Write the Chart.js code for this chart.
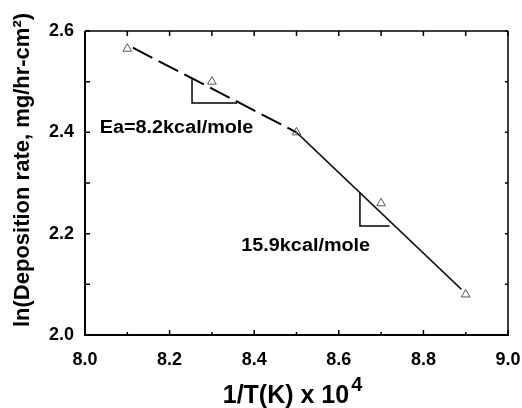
<!DOCTYPE html>
<html>
<head>
<meta charset="utf-8">
<script src="https://cdn.jsdelivr.net/npm/chart.js@4.4.1/dist/chart.umd.min.js"></script>
<style>
html,body{margin:0;padding:0;background:#fff;}
#wrap{width:522px;height:408px;position:relative;}
</style>
</head>
<body>
<div id="wrap"><canvas id="c" width="522" height="408"></canvas></div>
<script>
// ---- data ----
const invT = [8.1, 8.3, 8.5, 8.7, 8.9];
const lnRate = [2.565, 2.50, 2.40, 2.26, 2.08];
const fitLowX = [8.113, 8.5];
const fitLowY = [2.567, 2.40];
const fitHighX = [8.5, 8.89];
const fitHighY = [2.40, 2.09];
const slope1X = [8.253, 8.253, 8.36];
const slope1Y = [2.505, 2.458, 2.458];
const slope2X = [8.65, 8.65, 8.72];
const slope2Y = [2.282, 2.215, 2.215];
const xTickLabels = ["8.0", "8.2", "8.4", "8.6", "8.8", "9.0"];
const yTickLabels = ["2.0", "2.2", "2.4", "2.6"];
const annotations = [
  {text: "Ea=8.2kcal/mole", x: 8.035, y: 2.409, align: "left"},
  {text: "15.9kcal/mole", x: 8.674, y: 2.176, align: "right"}
];

const pts = (xs, ys) => xs.map((x, i) => ({x: x, y: ys[i]}));
const FONT = "'Liberation Sans', Arial, sans-serif";

const decor = {
  id: 'decor',
  afterDatasetsDraw(chart) {
    const ctx = chart.ctx;
    const a = chart.chartArea;
    const xs = chart.scales.x, ys = chart.scales.y;
    ctx.save();
    ctx.strokeStyle = '#000';
    // frame
    ctx.lineWidth = 1.5;
    ctx.beginPath();
    ctx.moveTo(a.left, a.top); ctx.lineTo(a.right, a.top);
    ctx.moveTo(a.right, a.top); ctx.lineTo(a.right, a.bottom);
    ctx.stroke();
    ctx.lineWidth = 2;
    ctx.beginPath();
    ctx.moveTo(a.left, a.top); ctx.lineTo(a.left, a.bottom);
    ctx.moveTo(a.left - 1, a.bottom); ctx.lineTo(a.right + 1, a.bottom);
    ctx.stroke();
    // ticks
    ctx.lineWidth = 1.5;
    ctx.beginPath();
    for (let i = 0; i <= 10; i++) {
      const v = 8.0 + i * 0.1;
      const px = xs.getPixelForValue(v);
      const len = (i % 2 === 0) ? 5 : 3;
      ctx.moveTo(px, a.bottom); ctx.lineTo(px, a.bottom - len);
      ctx.moveTo(px, a.top); ctx.lineTo(px, a.top + 5);
    }
    for (let i = 0; i <= 6; i++) {
      const v = 2.0 + i * 0.1;
      const py = ys.getPixelForValue(v);
      ctx.moveTo(a.left, py); ctx.lineTo(a.left + 5, py);
      ctx.moveTo(a.right, py); ctx.lineTo(a.right - 3, py);
    }
    ctx.stroke();
    // annotations (slightly wide lettering as in the original)
    ctx.fillStyle = '#000';
    ctx.font = "bold 18px " + FONT;
    ctx.textBaseline = 'middle';
    annotations.forEach(t => {
      ctx.save();
      ctx.translate(xs.getPixelForValue(t.x), ys.getPixelForValue(t.y));
      ctx.scale(1.1, 1);
      ctx.textAlign = t.align;
      ctx.fillText(t.text, 0, 0);
      ctx.restore();
    });
    // y title
    ctx.save();
    ctx.translate(23, 170);
    ctx.rotate(-Math.PI / 2);
    ctx.textAlign = 'center';
    ctx.textBaseline = 'middle';
    ctx.font = "bold 22px " + FONT;
    ctx.fillText("ln(Deposition rate, mg/hr-cm\u00B2)", 0, 0);
    ctx.restore();
    // x title
    ctx.textBaseline = 'alphabetic';
    ctx.textAlign = 'left';
    ctx.font = "bold 25px " + FONT;
    const main = "1/T(K) x 10";
    const w1 = ctx.measureText(main).width;
    ctx.font = "bold 20px " + FONT;
    const w2 = ctx.measureText("4").width;
    const cx = (a.left + a.right) / 2 - 5;
    const x0 = cx - (w1 + w2) / 2;
    ctx.font = "bold 25px " + FONT;
    ctx.fillText(main, x0, 403);
    ctx.font = "bold 20px " + FONT;
    ctx.fillText("4", x0 + w1 + 2, 391);
    ctx.restore();
  }
};

new Chart(document.getElementById('c'), {
  type: 'scatter',
  data: {
    datasets: [
      {data: pts(fitLowX, fitLowY), showLine: true, borderColor: '#000', borderWidth: 2, borderDash: [22, 7], pointRadius: 0, fill: false},
      {data: pts(fitHighX, fitHighY), showLine: true, borderColor: '#111', borderWidth: 1.5, pointRadius: 0, fill: false},
      {data: pts(slope1X, slope1Y), showLine: true, borderColor: '#000', borderWidth: 1.5, pointRadius: 0, fill: false},
      {data: pts(slope2X, slope2Y), showLine: true, borderColor: '#000', borderWidth: 1.5, pointRadius: 0, fill: false},
      {data: pts(invT, lnRate), showLine: false, pointStyle: 'triangle', pointRadius: 5, borderColor: '#555', borderWidth: 1, backgroundColor: 'rgba(0,0,0,0)'}
    ]
  },
  options: {
    responsive: false,
    animation: false,
    devicePixelRatio: 1,
    layout: {padding: {top: 31, right: 14, left: 0, bottom: 0}},
    plugins: {legend: {display: false}, tooltip: {enabled: false}},
    scales: {
      x: {
        type: 'linear', min: 8.0, max: 9.0,
        afterFit: s => { s.height = 73; s.paddingLeft = 0; s.paddingRight = 0; },
        afterBuildTicks: s => { s.ticks = xTickLabels.map(v => ({value: parseFloat(v)})); },
        ticks: {color: '#000', font: {family: FONT, size: 18, weight: 'bold'}, padding: 14, maxRotation: 0, autoSkip: false,
          callback: (v, i) => xTickLabels[i]},
        grid: {display: false, drawTicks: false},
        border: {display: false}
      },
      y: {
        type: 'linear', min: 2.0, max: 2.6,
        afterFit: s => { s.width = 85; s.paddingTop = 0; s.paddingBottom = 0; },
        afterBuildTicks: s => { s.ticks = yTickLabels.map(v => ({value: parseFloat(v)})); },
        ticks: {color: '#000', font: {family: FONT, size: 18, weight: 'bold'}, padding: 11, autoSkip: false,
          callback: (v, i) => yTickLabels[i]},
        grid: {display: false, drawTicks: false},
        border: {display: false}
      }
    }
  },
  plugins: [decor]
});
</script>
</body>
</html>
